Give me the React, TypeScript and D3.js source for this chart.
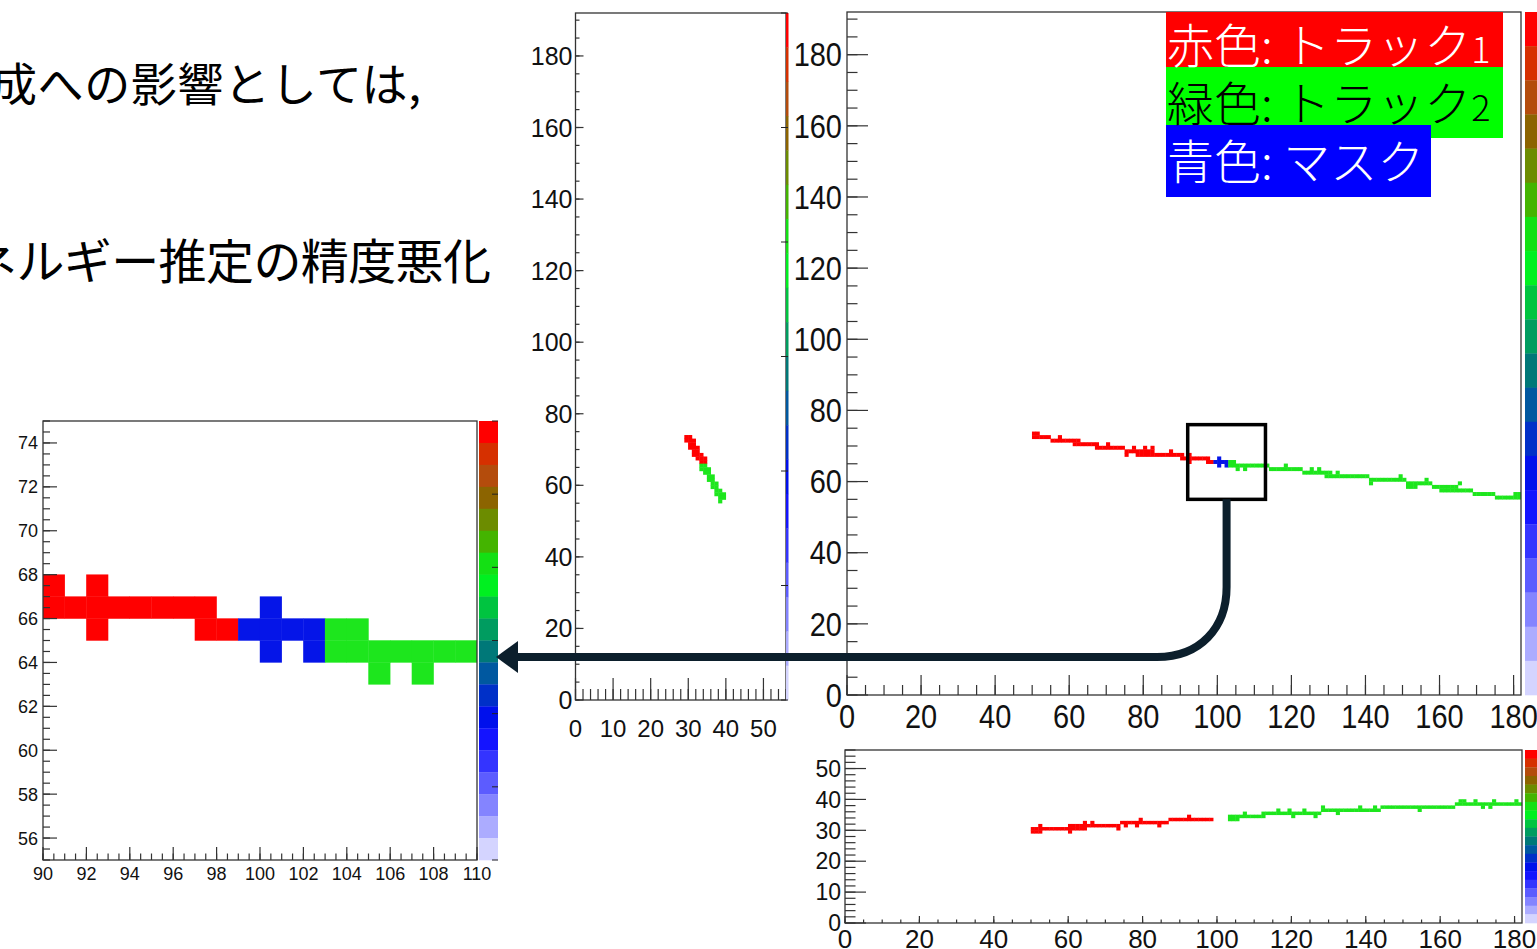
import * as d3 from 'd3';
import React from 'react';

type Run = [number, number, number]; // [from, to (exclusive), row]

// colour palette of the z axis (top -> bottom)
const paletteColors = [
  '#ff0000', '#d63000', '#b44c0c', '#8c6400', '#6c8c00', '#44b400', '#14e014',
  '#00f020', '#00c440', '#009c60', '#007878', '#0058a0', '#0030c8', '#0010ec',
  '#1414ff', '#3434ff', '#5c5cff', '#8484ff', '#acacff', '#d4d4ff'
];

const trackColors = { t1: '#ff0000', t2: '#1de61d', mask: '#0515e8' };

// x-y view (main panel): [x0, x1, y]
const track1XY: Run[] = [
  [50, 52, 73], [50, 55, 72], [55, 61, 71], [57, 58, 72], [61, 63, 71],
  [61, 68, 70], [67, 68, 69], [68, 75, 69], [70, 71, 70], [75, 76, 67],
  [75, 83, 68], [77, 78, 69], [80, 81, 69], [82, 83, 69], [78, 83, 67],
  [83, 90, 67], [87, 88, 68], [90, 97, 66], [90, 91, 67], [92, 93, 67],
  [92, 93, 65], [97, 99, 65], [97, 98, 66]
];
const maskXY: Run[] = [
  [99, 100, 65], [100, 101, 64], [100, 101, 65], [100, 101, 66],
  [101, 102, 65], [102, 103, 64], [102, 103, 65]
];
const track2XY: Run[] = [
  [103, 105, 64], [103, 105, 65], [105, 106, 63], [105, 107, 64], [107, 108, 63],
  [107, 114, 64], [114, 123, 63], [118, 119, 64], [123, 129, 62], [125, 126, 63],
  [127, 128, 63], [129, 141, 61], [129, 131, 62], [132, 133, 62], [141, 151, 60],
  [141, 142, 59], [149, 150, 61], [151, 158, 59], [151, 154, 58], [156, 157, 60],
  [158, 165, 58], [160, 165, 57], [165, 166, 59], [165, 169, 57], [169, 175, 56],
  [175, 182, 55], [180, 182, 56]
];

// x-z view (bottom panel): [x0, x1, z]
const track1XZ: Run[] = [
  [50, 53, 29], [50, 60, 30], [52, 53, 31], [60, 61, 29], [60, 65, 30],
  [60, 74, 31], [64, 65, 32], [66, 67, 32], [73, 74, 30], [74, 87, 32],
  [75, 76, 31], [78, 79, 31], [79, 80, 33], [84, 85, 31], [87, 99, 33], [92, 93, 34]
];
const track2XZ: Run[] = [
  [103, 106, 33], [103, 112, 34], [107, 108, 35], [112, 128, 35], [112, 113, 34],
  [116, 117, 36], [119, 120, 36], [120, 121, 34], [123, 124, 36], [126, 127, 34],
  [128, 144, 36], [128, 129, 37], [132, 133, 35], [138, 139, 37], [142, 143, 37],
  [144, 164, 37], [154, 155, 36], [164, 182, 38], [165, 167, 39], [169, 170, 39],
  [171, 172, 37], [173, 174, 37], [174, 175, 39], [180, 181, 39]
];

// z-y view (middle panel): [z0, z1, y]
const track1ZY: Run[] = [
  [29, 31, 73], [29, 32, 72], [30, 32, 71], [30, 33, 70],
  [31, 33, 69], [31, 34, 68], [32, 35, 67], [33, 35, 66]
];
const track2ZY: Run[] = [
  [33, 35, 65], [33, 36, 64], [34, 36, 63], [35, 37, 62], [35, 37, 61], [36, 38, 60],
  [36, 38, 59], [37, 39, 58], [37, 40, 57], [38, 40, 56], [38, 39, 55]
];

const legendItems = [
  { label: '赤色: トラック', sub: '1', bg: '#ff0000', fg: '#ffffff' },
  { label: '緑色: トラック', sub: '2', bg: '#00ff00', fg: '#000000' },
  { label: '青色: マスク', sub: '', bg: '#0000ff', fg: '#ffffff' }
];

const textLines = ['成への影響としては,', 'ネルギー推定の精度悪化'];

const zoomBox = { x: [92, 113], y: [55, 76] };

const numFont = '"Liberation Sans", Arial, sans-serif';
const jpFont = '"Noto Sans CJK JP", "Noto Sans", sans-serif';
const axisColor = '#333';

function cells(runs: Run[]) {
  const out: [number, number][] = [];
  runs.forEach(([a0, a1, b]) => {
    for (let a = a0; a < a1; a++) out.push([a, b]);
  });
  return out;
}

function Hits({ runs, color, xs, ys }: any) {
  return (
    <g fill={color}>
      {cells(runs).map(([a, b], i) => (
        <rect key={i} x={xs(a) - 0.2} y={ys(b + 1) - 0.2}
          width={xs(a + 1) - xs(a) + 0.4} height={ys(b) - ys(b + 1) + 0.4} />
      ))}
    </g>
  );
}

function Palette({ x0, x1, y0, y1 }: any) {
  const band = d3.scaleBand<number>().domain(d3.range(paletteColors.length)).range([y0, y1]);
  return (
    <g>
      {paletteColors.map((c, i) => (
        <rect key={i} x={x0} y={band(i)!} width={x1 - x0} height={band.bandwidth() + 0.3} fill={c} />
      ))}
    </g>
  );
}

// ROOT-like frame: ticks inside, labels outside; sy stretches the digits vertically
function Axes({ xs, ys, xMajor, xMinor, yMajor, yMinor, xLen, yLen, xFont, yFont, xBase, yGap, sy = 1 }: any) {
  const [xl, xr] = xs.range();
  const [yb, yt] = ys.range();
  return (
    <g>
      <rect x={xl} y={yt} width={xr - xl} height={yb - yt} fill="none" stroke={axisColor} strokeWidth={1.3} />
      {xMinor.map((v: number) => (
        <line key={'xm' + v} x1={xs(v)} x2={xs(v)} y1={yb} y2={yb - xLen / 2} stroke={axisColor} strokeWidth={1.2} />
      ))}
      {xMajor.map((v: number) => (
        <line key={'xM' + v} x1={xs(v)} x2={xs(v)} y1={yb} y2={yb - xLen} stroke={axisColor} strokeWidth={1.2} />
      ))}
      {yMinor.map((v: number) => (
        <line key={'ym' + v} x1={xl} x2={xl + yLen / 2} y1={ys(v)} y2={ys(v)} stroke={axisColor} strokeWidth={1.2} />
      ))}
      {yMajor.map((v: number) => (
        <line key={'yM' + v} x1={xl} x2={xl + yLen} y1={ys(v)} y2={ys(v)} stroke={axisColor} strokeWidth={1.2} />
      ))}
      <g fontFamily={numFont} fill="#111">
        {xMajor.map((v: number) => (
          <text key={'xt' + v} transform={`translate(${xs(v)},${xBase}) scale(1,${sy})`}
            fontSize={xFont} textAnchor="middle">{v}</text>
        ))}
        {yMajor.map((v: number) => (
          <text key={'yt' + v} transform={`translate(${xl - yGap},${ys(v)}) scale(1,${sy})`}
            dy="0.36em" fontSize={yFont} textAnchor="end">{v}</text>
        ))}
      </g>
    </g>
  );
}

export default function App() {
  // zoomed panel
  const xL = d3.scaleLinear().domain([90, 110]).range([43, 477]);
  const yL = d3.scaleLinear().domain([55, 75]).range([860, 421]);
  // z-y panel
  const xM = d3.scaleLinear().domain([0, 56]).range([575.5, 786]);
  const yM = d3.scaleLinear().domain([0, 192]).range([700, 13]);
  // x-y panel
  const xR = d3.scaleLinear().domain([0, 182]).range([847, 1521]);
  const yR = d3.scaleLinear().domain([0, 192]).range([695, 12]);
  // x-z panel
  const xB = d3.scaleLinear().domain([0, 182]).range([845, 1522]);
  const yB = d3.scaleLinear().domain([0, 56]).range([923, 750]);

  const palTickL = d3.scaleLinear().domain([0, 6]).range([860, 421]);
  const palTickM = d3.scaleLinear().domain([0, 6]).range([700, 13]);

  const bx0 = xR(zoomBox.x[0]), bx1 = xR(zoomBox.x[1]);
  const by0 = yR(zoomBox.y[1]), by1 = yR(zoomBox.y[0]);
  const cx = (bx0 + bx1) / 2;
  const arrowY = 657;

  return (
    <svg width={1537} height={949} style={{ position: 'absolute', left: 0, top: 0, display: 'block', background: '#fff' }}>
      <rect width={1537} height={949} fill="#fff" />

      {/* slide text */}
      <g fontFamily={jpFont} fill="#000">
        <text x={-9} y={101} fontSize={46} textLength={430} lengthAdjust="spacing">{textLines[0]}</text>
        <text x={-31} y={279} fontSize={48} textLength={522} lengthAdjust="spacing">{textLines[1]}</text>
      </g>

      {/* zoomed panel */}
      <defs>
        <clipPath id="clipL"><rect x={43} y={421} width={434} height={439} /></clipPath>
        <clipPath id="clipR"><rect x={847} y={12} width={674} height={683} /></clipPath>
      </defs>
      <g clipPath="url(#clipL)">
        <Hits runs={track1XY} color={trackColors.t1} xs={xL} ys={yL} />
        <Hits runs={maskXY} color={trackColors.mask} xs={xL} ys={yL} />
        <Hits runs={track2XY} color={trackColors.t2} xs={xL} ys={yL} />
      </g>
      <Axes xs={xL} ys={yL} xMajor={d3.range(90, 111, 2)} xMinor={d3.range(90, 110.1, 0.5)}
        yMajor={d3.range(56, 75, 2)} yMinor={d3.range(55, 75.1, 0.5)}
        xLen={13} yLen={14} xFont={18} yFont={18} xBase={880} yGap={5} />
      <Palette x0={479} x1={498} y0={421} y1={860} />
      {d3.range(0, 7).map(v => (
        <line key={v} x1={492} x2={498} y1={palTickL(v)} y2={palTickL(v)} stroke="#222" strokeWidth={1} />
      ))}

      {/* z-y panel */}
      <Hits runs={track1ZY} color={trackColors.t1} xs={xM} ys={yM} />
      <Hits runs={track2ZY} color={trackColors.t2} xs={xM} ys={yM} />
      <Axes xs={xM} ys={yM} xMajor={d3.range(0, 51, 10)} xMinor={d3.range(0, 56.1, 2)}
        yMajor={d3.range(0, 181, 20)} yMinor={d3.range(0, 191, 5)}
        xLen={22} yLen={8} xFont={24} yFont={25} xBase={737} yGap={3} />
      <Palette x0={786} x1={788.5} y0={13} y1={700} />
      {d3.range(0, 7).map(v => (
        <line key={v} x1={781} x2={788} y1={palTickM(v)} y2={palTickM(v)} stroke="#222" strokeWidth={1} />
      ))}

      {/* x-y panel */}
      <g clipPath="url(#clipR)">
        <Hits runs={track1XY} color={trackColors.t1} xs={xR} ys={yR} />
        <Hits runs={maskXY} color={trackColors.mask} xs={xR} ys={yR} />
        <Hits runs={track2XY} color={trackColors.t2} xs={xR} ys={yR} />
      </g>
      <Axes xs={xR} ys={yR} xMajor={d3.range(0, 181, 20)} xMinor={d3.range(0, 181, 5)}
        yMajor={d3.range(0, 181, 20)} yMinor={d3.range(0, 191, 5)}
        xLen={20} yLen={21} xFont={29} yFont={29} xBase={728} yGap={5} sy={1.12} />
      <Palette x0={1525} x1={1540} y0={12} y1={695} />

      {/* legend */}
      <g fontFamily={jpFont} fontWeight={300}>
        <rect x={1166} y={12} width={337} height={55} fill={legendItems[0].bg} />
        <rect x={1166} y={67} width={337} height={71} fill={legendItems[1].bg} />
        <rect x={1166} y={125} width={265} height={72} fill={legendItems[2].bg} />
        {legendItems.map((d, i) => (
          <text key={i} x={1167} y={[63, 121, 179][i]} fontSize={47} fill={d.fg}>
            {d.label}
            {d.sub && <tspan fontSize={36}>{d.sub}</tspan>}
          </text>
        ))}
      </g>

      {/* x-z panel */}
      <Hits runs={track1XZ} color={trackColors.t1} xs={xB} ys={yB} />
      <Hits runs={track2XZ} color={trackColors.t2} xs={xB} ys={yB} />
      <Axes xs={xB} ys={yB} xMajor={d3.range(0, 181, 20)} xMinor={d3.range(0, 181, 5)}
        yMajor={d3.range(0, 51, 10)} yMinor={d3.range(0, 56.1, 2)}
        xLen={7} yLen={21} xFont={26} yFont={23} xBase={948} yGap={4} />
      <Palette x0={1525} x1={1540} y0={750} y1={923} />

      {/* zoom box and arrow */}
      <rect x={bx0} y={by0} width={bx1 - bx0} height={by1 - by0} fill="none" stroke="#000" strokeWidth={3.5} />
      <path d={`M${cx},${by1} V587 C${cx},628 1200,${arrowY} 1157,${arrowY} H514`}
        fill="none" stroke="#0c1f2c" strokeWidth={8} />
      <path d={`M496,${arrowY} L518,${arrowY - 16} L518,${arrowY + 16} Z`} fill="#0c1f2c" />
    </svg>
  );
}
